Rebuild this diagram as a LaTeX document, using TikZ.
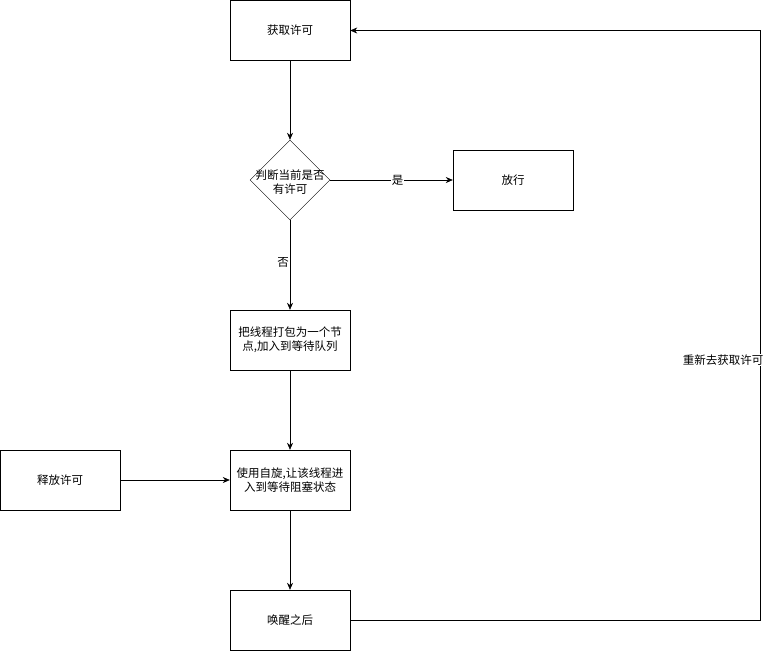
\documentclass[tikz,border=0pt]{standalone}
\usepackage{fontspec}
\setmainfont{Noto Sans CJK SC}
\usetikzlibrary{shapes.geometric,arrows.meta}
\begin{document}
\begin{tikzpicture}[x=1pt,y=-1pt,font=\fontsize{11.5}{14}\selectfont,
  box/.style={draw,minimum width=120pt,minimum height=60pt,align=center,inner sep=0pt},
  arr/.style={-{Stealth[length=7pt,width=6pt]},line width=0.6pt},
  lbl/.style={fill=white,inner sep=1pt}]
\useasboundingbox (0,0) rectangle (781,651);
\node[box] (get) at (290,30.5) {获取许可};
\node[draw,diamond,minimum width=80pt,minimum height=80pt,inner sep=0pt] (dec) at (290,180) {};
\node[align=center] (dect) at (290,182) {判断当前是否\\有许可};
\node[box] (pass) at (513,180) {放行};
\node[box] (pack) at (290,340) {把线程打包为一个节\\点,加入到等待队列};
\node[box] (spin) at (290,480) {使用自旋,让该线程进\\入到等待阻塞状态};
\node[box] (rel) at (60,480) {释放许可};
\node[box] (wake) at (290,620) {唤醒之后};
\coordinate (c1) at (760,620);
\coordinate (c2) at (760,30.5);
\draw[arr] (get) -- (dec);
\draw[arr] (dec) -- node[lbl,pos=0.55]{是} (pass);
\draw[arr] (dec) -- node[lbl,xshift=-7pt,yshift=3pt,fill=none]{否} (pack);
\draw[arr] (pack) -- (spin);
\draw[arr] (rel) -- (spin);
\draw[arr] (spin) -- (wake);
\draw[arr] (wake.east) -- (c1) -- (c2) -- (get.east);
\node[lbl] (back) at (723,360) {重新去获取许可};
\end{tikzpicture}
\end{document}
